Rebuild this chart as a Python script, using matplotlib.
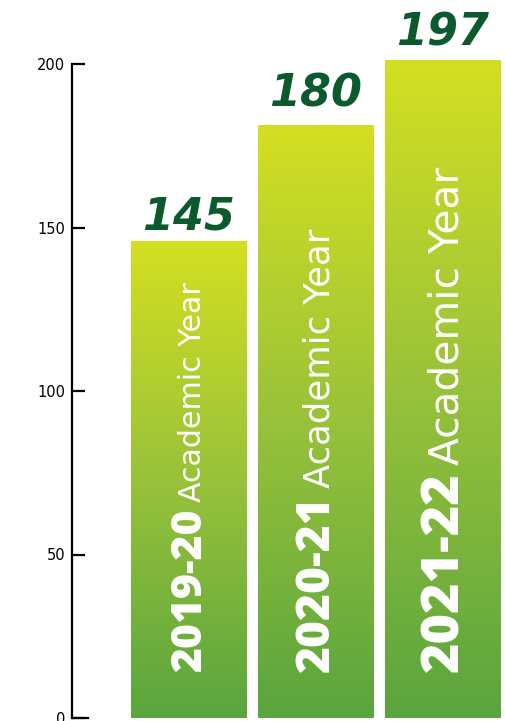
import numpy as np
import matplotlib
matplotlib.use("Agg")
import matplotlib.pyplot as plt
from matplotlib.colors import LinearSegmentedColormap

# values shown above the bars
years = ["2019-20", "2020-21", "2021-22"]
values = [145, 180, 197]
# bar heights as drawn in the picture (the last one overshoots its label)
bar_heights = [145.7, 181.3, 201.2]
yticks = [0, 50, 100, 150, 200]

grad = LinearSegmentedColormap.from_list("g", ["#5aa53e", "#98c23a", "#d4df21"])
label_green = "#0b5a2e"
bold_sizes = [30.7, 33.2, 37.5]
reg_sizes = [21.6, 25.5, 29.3]
label_offsets = [9, 13.5, 10.5]

fig = plt.figure(figsize=(5.06, 7.21), dpi=100)
W, H = 506, 721
ax = fig.add_axes([72 / W, 3 / H, (500 - 72) / W, (718 - 64) / H])

x = np.arange(len(values))
width = 0.906
ramp = np.linspace(0, 1, 256).reshape(-1, 1)

for i, h in enumerate(bar_heights):
    ax.imshow(ramp, cmap=grad, origin="lower", aspect="auto",
              extent=(x[i] - width / 2, x[i] + width / 2, 0, h), clip_on=False)
    ax.annotate(str(values[i]), xy=(x[i], h), xytext=(0, label_offsets[i]),
                textcoords="offset points", ha="center", va="baseline", fontsize=32,
                fontweight="bold", fontstyle="oblique", color=label_green,
                family="DejaVu Sans", annotation_clip=False)

ax.set_xlim(-0.917, 2.453)
ax.set_ylim(0, 200)

# year names inside the bars: bold part, then regular part on the same baseline
fig.canvas.draw()
for i in range(len(values)):
    px, py = ax.transData.transform((x[i], 14))
    px += 0.3 * bold_sizes[i] * 100 / 72
    bx, by = ax.transData.inverted().transform((px, py))
    t1 = ax.text(bx, by, years[i], rotation=90, rotation_mode="anchor",
                 ha="left", va="baseline", color="white", fontsize=bold_sizes[i],
                 fontweight="heavy", family="Open Sans")
    fig.canvas.draw()
    top = t1.get_window_extent().y1 + 7
    rx, ry = ax.transData.inverted().transform((px, top))
    ax.text(rx, ry, "Academic Year", rotation=90, rotation_mode="anchor",
            ha="left", va="baseline", color="white", fontsize=reg_sizes[i],
            family="DejaVu Sans")

ax.set_yticks(yticks)
ax.set_xticks([])
for s in ["top", "right", "bottom"]:
    ax.spines[s].set_visible(False)
ax.spines["left"].set_linewidth(1.6)
ax.tick_params(axis="y", direction="in", length=9, width=1.6, labelsize=10.5, pad=5)
ax.plot([0, 16 / 428], [0, 0], transform=ax.transAxes, color="black", lw=1.6, clip_on=False)

fig.savefig("out.png", dpi=100)
